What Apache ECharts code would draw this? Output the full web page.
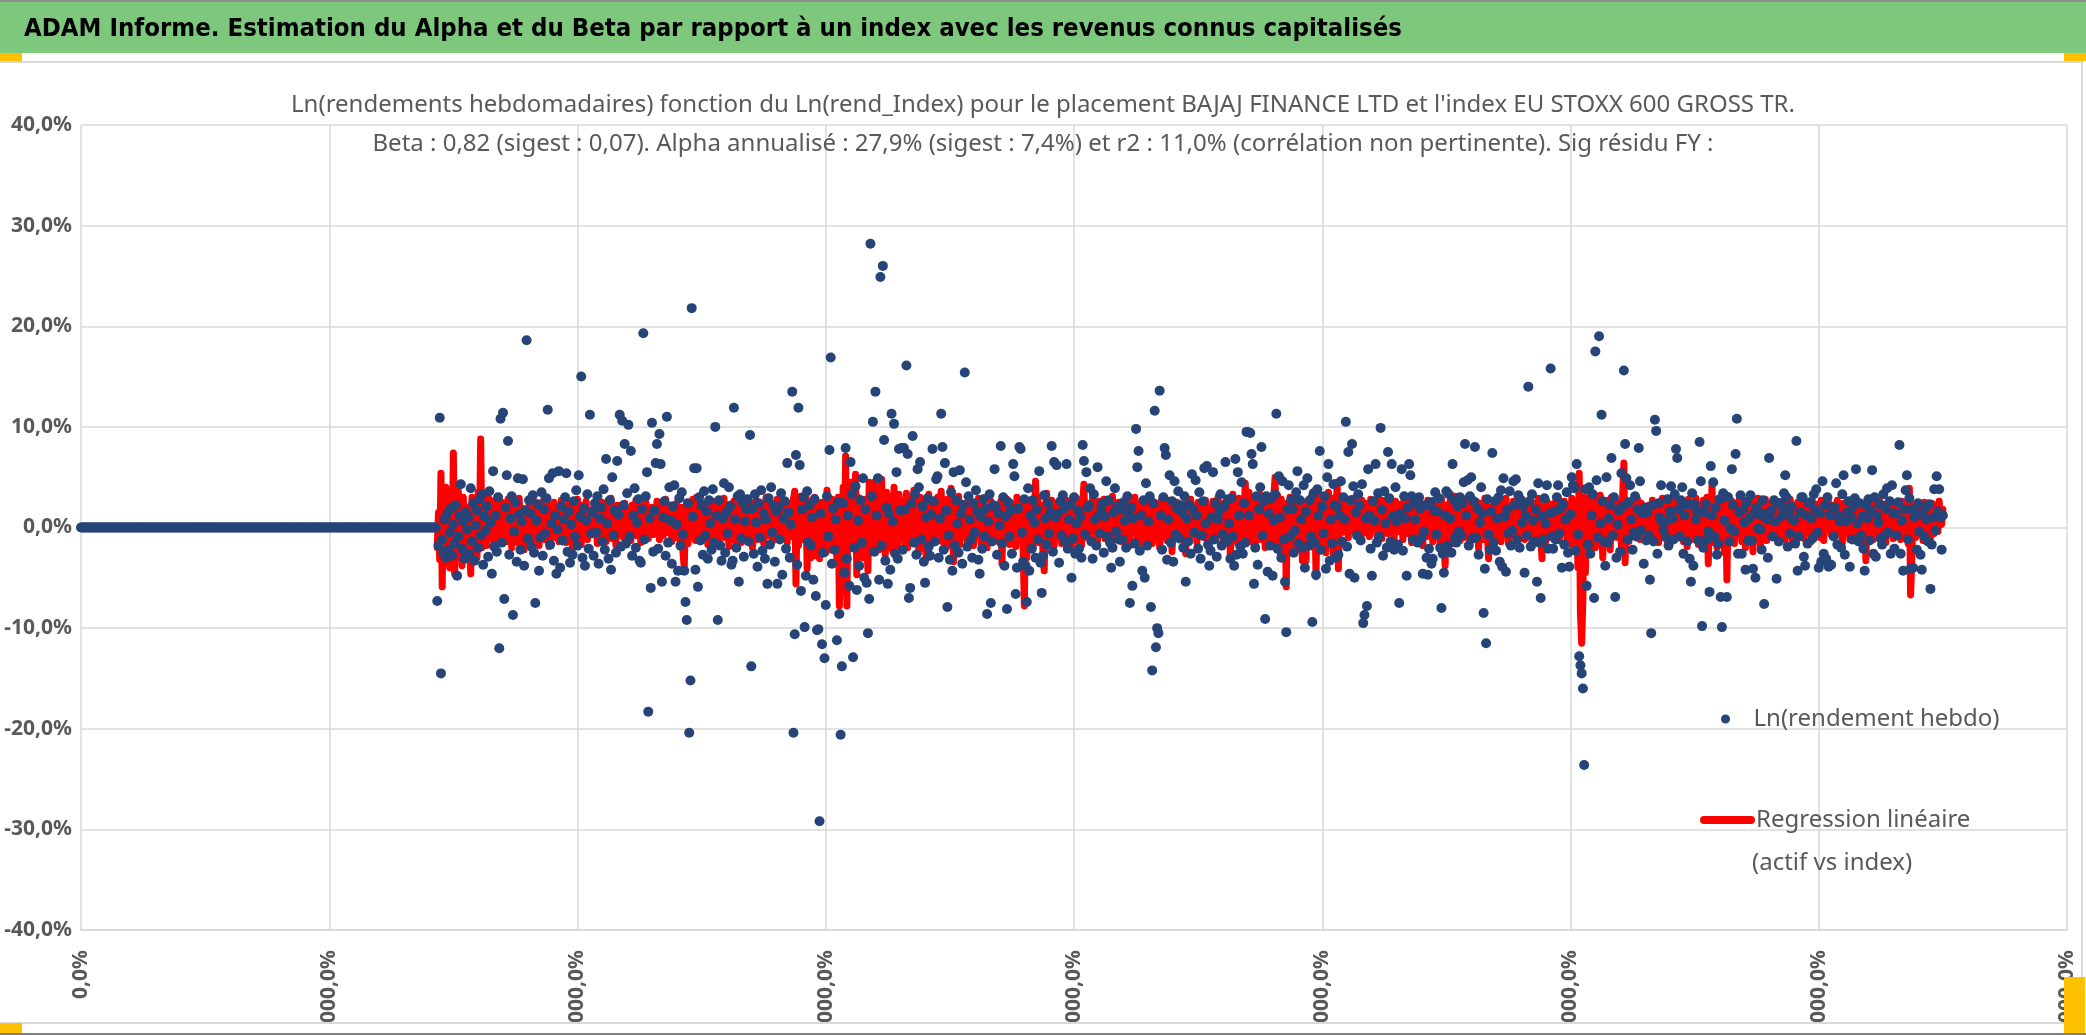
<!DOCTYPE html>
<html lang="fr">
<head>
<meta charset="utf-8">
<title>ADAM Informe - Alpha et Beta BAJAJ FINANCE</title>
<script src="https://cdn.jsdelivr.net/npm/echarts@6/dist/echarts.min.js"></script>
<style>
  html, body { margin: 0; padding: 0; background: #ffffff; }
  #chart { width: 2086px; height: 1035px; }
</style>
</head>
<body>
<div id="chart"></div>
<script>
// textes
var titreBandeau = 'ADAM Informe. Estimation du Alpha et du Beta par rapport à un index avec les revenus connus capitalisés';
var titreLigne1 = "Ln(rendements hebdomadaires) fonction du Ln(rend_Index) pour le placement BAJAJ FINANCE LTD et l'index EU STOXX 600 GROSS TR.";
var titreLigne2 = 'Beta : 0,82 (sigest : 0,07). Alpha annualisé : 27,9% (sigest : 7,4%) et r2 : 11,0% (corrélation non pertinente). Sig résidu FY :';
var nomPoints = 'Ln(rendement hebdo)';
var nomRegression = 'Regression linéaire';
var nomRegressionSuite = '(actif vs index)';

// axes (semaines en x, % en y)
var bornesX = [0, 1600];
var pasX = 200;
var bornesY = [-40, 40];
var pasY = 10;

// semaines avant la cotation : rendement nul (en dixiemes de %)
var rendAvantCotation = [
  0,0,0,0,0,0,0,0,0,0, 0,0,0,0,0,0,0,0,0,0, 0,0,0,0,0,0,0,0,0,0, 0,0,0,0,0,0,0,0,0,0,
  0,0,0,0,0,0,0,0,0,0, 0,0,0,0,0,0,0,0,0,0, 0,0,0,0,0,0,0,0,0,0, 0,0,0,0,0,0,0,0,0,0,
  0,0,0,0,0,0,0,0,0,0, 0,0,0,0,0,0,0,0,0,0, 0,0,0,0,0,0,0,0,0,0, 0,0,0,0,0,0,0,0,0,0,
  0,0,0,0,0,0,0,0,0,0, 0,0,0,0,0,0,0,0,0,0, 0,0,0,0,0,0,0,0,0,0, 0,0,0,0,0,0,0,0,0,0,
  0,0,0,0,0,0,0,0,0,0, 0,0,0,0,0,0,0,0,0,0, 0,0,0,0,0,0,0,0,0,0, 0,0,0,0,0,0,0,0,0,0,
  0,0,0,0,0,0,0,0,0,0, 0,0,0,0,0,0,0,0,0,0, 0,0,0,0,0,0,0,0,0,0, 0,0,0,0,0,0,0,0,0,0,
  0,0,0,0,0,0,0,0,0,0, 0,0,0,0,0,0,0,0,0,0, 0,0,0,0,0,0,0,0,0,0, 0,0,0,0,0,0,0,0,0,0,
  0,0,0,0,0,0,0
];

// Ln(rendement hebdo), dixiemes de %, une valeur par semaine a partir de la semaine 287
var rendHebdo = [
  -73,-18,109,-145,-12,-25,8,-30,14,-22,-5,19,-28,3,-16,22,-48,-9,12,43,-21,6,-31,15,-2,
  10,-26,39,-14,24,-33,2,17,-20,28,-8,33,-37,11,-3,21,-29,36,5,-46,56,-19,12,-24,30,
  -120,108,-15,114,-71,20,52,86,-27,9,31,-87,-4,25,-34,49,13,-22,6,48,-38,17,186,-11,27,
  14,-19,32,-25,-75,7,23,-43,-10,35,-28,18,-6,29,117,49,-17,4,54,-33,12,-46,-2,56,-40,
  21,-13,8,30,54,-24,16,-35,3,-27,26,-9,37,-18,52,11,150,-30,19,-38,7,33,-21,112,-6,
  15,-28,24,-5,31,-36,9,20,-14,38,-22,68,4,-31,27,-42,50,-8,17,-25,66,13,112,-19,106,
  22,83,-16,34,102,-9,76,-28,12,39,-20,5,28,-33,-35,18,193,-12,31,55,-183,9,-60,104,-24,
  17,64,83,-21,93,63,-54,10,26,-28,110,-15,40,7,-36,21,42,-54,3,-43,29,-18,35,-7,-43,
  -74,-92,24,-204,-152,218,11,59,-42,59,-59,30,-13,22,-27,36,-8,16,-31,27,4,-22,38,-15,100,
  12,-92,27,-18,-33,9,44,-25,15,-6,40,21,-37,-33,119,8,-20,31,-54,33,-11,25,-29,6,18,
  28,-14,92,-138,19,-26,33,5,-39,24,-10,37,-23,14,-31,8,-56,29,-17,40,-5,22,-34,16,-56,
  20,-12,34,-47,9,26,-21,64,15,-30,3,135,-204,-106,72,-37,119,62,-63,18,30,-99,-48,36,-15,
  22,-18,10,-52,28,-68,-102,-101,-292,14,-116,-25,-130,-77,31,-9,77,169,-36,19,-22,8,-112,25,-86,
  -206,-138,24,-45,79,-31,12,-58,65,33,-129,-20,41,-62,7,-38,27,-15,49,-50,18,-55,-105,-71,282,
  31,105,-24,135,12,49,-52,249,-18,260,87,-33,20,-56,14,-42,113,6,103,-26,55,-31,78,17,79,
  -22,79,18,161,73,-70,-60,24,91,-15,33,-27,58,40,65,-12,21,-34,-55,10,29,-19,-28,13,78,
  26,-14,48,51,-30,9,113,80,-22,64,17,-79,-8,-32,35,-43,55,-18,27,4,-25,57,14,-36,22,
  154,45,-19,31,8,-12,-30,24,-5,37,16,-32,-46,11,-21,28,-9,19,-86,6,33,-75,-14,22,58,
  21,-27,14,2,81,-16,30,-38,11,-81,25,-9,17,-26,63,51,-66,-40,19,80,78,-5,-34,28,-38,
  -74,39,-43,12,-21,27,5,-30,18,-12,56,-35,-65,-28,32,9,-17,24,-6,15,81,-24,65,10,62,
  14,-35,26,-8,32,19,-14,63,-21,8,23,-50,-11,30,-26,4,17,-21,11,-30,82,66,-7,55,20,
  22,39,-14,-31,33,8,-18,60,12,-6,19,24,-25,11,46,-9,27,-15,-40,-20,15,39,-4,21,-12,
  -34,18,-12,25,7,-20,31,13,-75,20,-58,9,-16,98,60,76,-23,12,-43,27,-50,44,-18,6,31,
  -79,-142,24,116,-119,-100,-105,136,12,-22,30,79,72,-32,8,52,-15,26,-34,46,-7,19,36,-11,22,
  15,-20,31,-54,9,-14,22,-26,53,18,-5,47,12,-21,35,-31,-8,26,59,4,61,-17,-38,-23,10,
  55,-12,24,-29,8,16,33,-18,-7,21,65,-14,28,4,-31,29,-9,-38,68,-27,55,12,-19,45,-26,
  24,-15,95,95,12,94,73,63,-56,-20,31,-37,18,40,80,-8,26,-91,31,-44,14,-18,29,-48,7,
  33,113,-21,51,10,-30,46,-12,-54,-104,18,42,-9,27,18,-25,-3,35,56,-16,27,8,-20,42,-40,
  16,49,-18,27,-9,-94,34,-15,-47,38,12,76,-22,21,-6,31,-41,50,63,-33,8,-16,43,22,-30,
  21,-27,12,46,-14,30,8,105,-19,75,-46,27,83,41,-50,15,-8,33,22,-13,43,-95,-87,9,-78,
  58,12,-21,-48,26,7,63,-15,34,-9,99,18,-28,36,4,-20,75,29,-14,63,11,-22,40,6,-17,
  -75,14,58,-23,31,9,-48,20,63,52,31,-12,24,8,27,-15,30,19,-10,-46,-4,22,-30,-47,-21,
  25,-36,-31,17,35,-7,16,29,-20,-80,-26,-45,12,36,-18,33,9,-25,63,27,-10,-15,21,-4,30,
  -8,24,45,83,12,47,-18,31,50,-11,26,80,-10,19,-27,5,40,14,-85,-41,-115,28,-7,-22,16,
  74,-15,26,-23,9,30,-34,37,-39,49,11,-44,18,-6,36,-18,-3,46,22,48,-12,32,-20,27,5,
  21,-45,12,-8,140,26,-19,33,7,-14,18,-54,44,-15,-70,11,-12,29,4,42,-21,14,158,-9,-21,
  16,-12,30,42,-6,19,-40,23,-17,8,35,-25,-39,13,50,42,39,-23,63,-7,-128,-137,-145,-160,-236,
  38,-58,-17,40,-26,12,33,-70,175,47,-10,190,4,112,26,-14,-38,50,-15,9,22,69,-8,30,-69,
  -30,3,17,-24,54,21,156,83,49,-12,25,42,8,-22,-5,31,-9,18,79,46,-3,14,-36,20,-13,
  15,-8,-52,-105,22,-14,107,96,-26,24,10,42,5,-3,6,-10,28,-18,16,41,9,-12,33,78,69,
  18,-9,27,40,-26,12,23,-14,23,-31,-54,34,-38,23,8,16,-13,85,46,-98,-20,15,23,-12,-4,
  -64,61,12,45,-9,20,-27,-16,28,-69,-99,34,7,31,-69,30,-14,-1,58,22,-4,73,108,-26,15,
  32,-26,18,5,-42,25,-13,9,32,-13,-41,14,-50,20,-1,13,-2,-22,27,-76,14,8,-30,69,8,
  17,-9,27,6,-51,24,-14,24,11,20,34,52,30,-19,13,-6,21,8,7,-16,86,-43,-9,15,30,
  30,-29,-38,12,-16,24,25,9,-11,33,18,38,-5,-40,14,-34,46,-26,22,-31,30,-39,12,-37,20,
  -9,20,44,-17,11,6,-20,33,52,-27,6,15,26,-39,11,-12,21,29,58,4,-14,24,-8,11,-21,
  -43,22,9,28,-13,17,57,-26,30,-29,12,5,23,-11,-17,33,-8,19,39,-5,26,-26,42,14,-21,
  14,-8,25,82,-26,7,-43,18,37,52,-12,29,-41,18,-40,10,15,-22,24,-4,-27,-42,13,-9,20,
  8,-14,23,-61,-17,10,38,-3,51,16,38,10,-22,12
];

// Regression lineaire (actif vs index), dixiemes de %, memes semaines
var rendRegression = [
  -20,15,-32,54,-59,28,-35,40,-18,33,-40,12,-25,74,-46,22,-30,36,-14,25,-38,30,-10,18,-28,
  20,-15,-46,30,-22,26,8,-30,35,-12,88,-20,24,-8,30,-18,15,28,-10,22,5,-16,27,2,-12,
  18,-10,25,-5,22,8,-14,28,-2,15,-20,24,6,-9,21,-15,29,3,-11,19,-22,14,7,-6,23,
  2,20,-13,26,-5,17,9,-18,24,1,-8,30,-12,16,5,-19,22,11,-7,25,-10,14,20,-14,9,
  27,-9,12,21,-15,6,24,-3,15,-21,19,8,-11,28,0,13,-17,22,4,-8,26,-12,10,17,-4,
  18,-6,23,3,-16,20,11,-9,25,-2,14,-14,21,7,-5,29,-11,16,2,-18,22,9,-7,19,4,
  -10,24,12,-4,18,6,-13,22,0,15,27,-8,10,19,-15,21,4,-6,25,11,-11,17,3,20,-7,
  16,-3,26,9,-12,21,5,-8,18,28,-5,13,0,22,-14,17,7,-10,24,2,15,-18,20,-25,-40,
  12,25,-16,19,3,-9,28,10,-13,30,5,-6,21,-11,16,24,-4,8,-17,22,13,-8,26,1,-12,
  20,7,-14,24,-3,17,29,-10,11,4,-19,23,15,-7,26,-13,9,20,-5,27,-15,12,3,22,-9,
  14,-6,25,8,-20,18,2,27,-12,16,-4,23,9,-16,21,30,-8,13,-2,24,-14,19,6,-10,28,
  7,22,-11,17,26,-5,12,-15,24,3,19,-9,28,36,-56,20,-18,14,31,-12,8,25,33,-41,10,
  18,-30,26,-12,30,-28,14,22,-31,8,25,-18,12,-25,37,-10,20,-22,28,4,-15,24,-35,30,-78,
  20,-65,40,-30,71,-78,35,-20,45,-15,28,-12,53,-47,30,-20,25,10,-30,20,28,-10,-43,45,-20,
  30,-18,45,-25,12,38,-22,26,48,-15,20,-27,35,5,-20,30,14,-24,40,-8,22,-18,33,2,-12,
  26,8,-16,34,-20,19,28,-8,12,37,-14,22,3,-25,30,15,-12,24,-6,-31,20,33,-10,18,-2,
  14,-11,25,30,-6,18,36,-14,22,7,-20,28,11,-9,39,5,-34,26,-12,20,31,-17,9,24,-5,
  22,10,-13,27,-4,16,3,-18,24,12,-9,29,6,-15,20,25,-7,14,-20,18,1,26,-11,13,21,
  -8,19,7,-15,26,-36,20,11,-10,28,3,-17,24,15,-6,22,-19,30,8,-13,25,2,-22,-78,21,
  -30,24,15,-12,28,-20,10,46,5,30,-15,22,12,-25,-43,20,34,-8,18,-14,27,6,-18,24,15,
  -10,20,8,-16,25,13,-5,27,-12,18,4,-20,22,10,-8,29,-14,16,6,-18,24,43,-10,19,2,
  23,-9,15,30,-4,12,21,-13,26,5,-7,19,28,-11,14,2,24,-6,17,31,-12,20,9,-3,25,
  11,-14,22,7,27,-8,16,3,-18,25,12,-5,30,18,-10,21,6,-15,26,14,-2,23,-12,19,8,
  28,-16,13,24,-6,19,4,-20,26,10,-9,22,15,-13,27,1,18,-24,20,12,-7,25,-11,16,6,
  21,-5,17,-26,24,8,-12,28,14,-3,20,6,-15,25,11,-8,22,17,-10,27,3,-14,19,9,-6,
  26,12,-9,21,30,-4,15,24,-13,18,7,27,-11,20,-30,16,33,-6,22,10,-16,29,5,-8,24,
  15,44,-10,28,35,-14,22,8,30,-18,17,25,-6,33,-12,20,26,-20,12,29,-9,23,4,-16,31,
  50,-15,32,12,-25,28,6,-30,20,-59,24,-10,30,15,-18,26,3,-22,29,10,-14,25,-33,18,8,
  -33,26,14,-12,30,5,-20,24,-49,28,10,-15,32,18,-8,27,-25,12,35,-10,20,29,-28,15,6,
  45,-41,20,28,-5,15,30,2,22,-10,25,12,-3,29,8,18,-8,26,14,0,27,-6,19,24,4,
  21,-9,28,10,-2,25,16,-8,30,5,19,-11,27,12,0,24,-6,20,29,3,15,-10,26,9,18,
  -4,23,11,-12,28,17,-6,21,2,26,-15,14,30,-3,19,8,-10,25,13,-18,22,6,-9,27,15,
  5,20,-14,27,10,-7,24,16,-20,29,3,-12,-38,22,8,-5,26,14,-16,21,31,-9,18,4,-13,
  25,9,-10,28,15,-4,22,-17,30,6,19,-8,26,12,-21,24,3,17,-12,29,10,-6,-31,20,14,
  -5,23,13,-9,27,4,18,-14,25,10,-3,29,7,-16,21,15,-8,26,2,19,-11,24,12,-6,28,
  8,-12,22,16,-5,27,11,-18,24,3,20,-9,29,14,-2,-31,21,7,-14,26,13,-7,23,18,-10,
  24,-6,17,28,-13,10,21,-4,26,15,-10,22,6,-17,29,12,-3,19,25,-40,54,-85,-115,-70,30,
  -45,28,10,-25,34,-12,20,30,-20,15,26,-8,32,4,-30,22,14,-14,27,6,-22,30,-10,18,24,
  8,-10,25,14,-18,30,64,-35,20,12,-14,26,6,-9,22,17,-5,28,10,-12,24,3,-8,20,15,
  -4,22,12,-11,27,8,-7,24,16,-15,21,3,29,-9,18,11,-13,26,5,20,-6,28,14,-10,23,
  9,-8,26,15,-14,21,4,-19,28,12,-6,24,18,-12,29,6,-17,22,10,-5,27,-20,14,30,-36,
  18,-10,42,-15,25,10,-20,28,5,-12,22,15,-25,30,-52,20,12,-8,26,3,-16,24,9,-5,28,
  12,-14,23,6,-20,27,16,-7,21,2,-24,25,13,-11,29,8,-18,22,15,-4,28,-13,19,7,-9,
  24,10,-8,27,4,-15,21,14,-6,26,9,-12,22,17,-3,28,5,-16,20,11,-9,25,13,-5,23,
  7,-11,24,16,-4,20,10,-14,26,3,18,-8,23,12,-10,27,6,-13,21,15,-2,25,8,-7,22,
  13,-9,20,27,-5,16,8,-15,24,11,-3,22,17,-12,26,4,19,-7,28,10,-14,21,6,15,-6,
  18,-33,20,9,-8,25,14,-12,22,5,17,-10,26,11,-4,23,8,-15,20,13,-6,27,3,-11,24,
  10,-7,22,15,-12,26,4,-9,20,12,-16,39,-67,-30,18,8,-10,24,14,-5,21,9,-13,25,6,
  -8,20,13,-10,24,7,-6,22,15,-4,26,10,3,18
];

// points [semaine, %]
var pointsHebdo = rendAvantCotation.concat(rendHebdo).map(function (v, i) {
  return [i, v / 10];
});
var debutCotation = rendAvantCotation.length;
var pointsRegression = rendRegression.map(function (v, i) {
  return [debutCotation + i, v / 10];
});

function enPourcent(v) {
  return v.toFixed(1).replace('.', ',') + '%';
}

var GRIS_TEXTE = '#595959';
var GRIS_GRILLE = '#D9D9D9';
var POLICE = "'Noto Sans', sans-serif";

var chart = echarts.init(document.getElementById('chart'));

var option = {
  animation: false,
  backgroundColor: '#ffffff',
  title: [
    {
      text: titreBandeau,
      left: 24,
      top: 16,
      padding: 0,
      textStyle: {
        fontFamily: "'Liberation Sans Narrow', 'DejaVu Sans Condensed', 'Noto Sans', sans-serif",
        fontWeight: 'bold',
        fontSize: 25.5,
        color: '#000000'
      }
    },
    {
      text: titreLigne1,
      left: 'center',
      top: 93,
      padding: 0,
      textStyle: { fontFamily: POLICE, fontWeight: 'normal', fontSize: 24, color: GRIS_TEXTE }
    },
    {
      text: titreLigne2,
      left: 'center',
      top: 132,
      padding: 0,
      textStyle: { fontFamily: POLICE, fontWeight: 'normal', fontSize: 24, color: GRIS_TEXTE }
    }
  ],
  legend: [
    {
      data: [nomPoints],
      left: 1721,
      top: 707,
      padding: 0,
      itemWidth: 46,
      itemHeight: 9,
      icon: 'circle',
      selectedMode: false,
      textStyle: { fontFamily: POLICE, fontSize: 24, color: GRIS_TEXTE }
    },
    {
      data: [nomRegression],
      left: 1700,
      top: 808,
      padding: 0,
      itemWidth: 47,
      itemHeight: 8,
      selectedMode: false,
      lineStyle: { width: 8, cap: 'round' },
      textStyle: { fontFamily: POLICE, fontSize: 24, color: GRIS_TEXTE }
    }
  ],
  grid: {
    left: 81,
    right: 19,
    top: 125,
    bottom: 105,
    containLabel: false,
    outerBoundsMode: 'none'
  },
  xAxis: {
    type: 'value',
    min: bornesX[0],
    max: bornesX[1],
    interval: pasX,
    axisLine: { show: true, onZero: false, lineStyle: { color: GRIS_GRILLE, width: 2 } },
    axisTick: { show: false },
    splitLine: { show: true, lineStyle: { color: GRIS_GRILLE, width: 1.5 } },
    axisLabel: {
      rotate: 90,
      margin: 20,
      fontFamily: POLICE,
      fontWeight: 'bold',
      fontSize: 21,
      color: GRIS_TEXTE,
      formatter: function (v) { return enPourcent(v * 100); }
    }
  },
  yAxis: {
    type: 'value',
    min: bornesY[0],
    max: bornesY[1],
    interval: pasY,
    axisLine: { show: false },
    axisTick: { show: false },
    splitLine: { show: true, lineStyle: { color: GRIS_GRILLE, width: 1.5 } },
    axisLabel: {
      margin: 9,
      fontFamily: POLICE,
      fontWeight: 'bold',
      fontSize: 21,
      color: GRIS_TEXTE,
      formatter: enPourcent
    }
  },
  series: [
    {
      name: nomRegression,
      type: 'line',
      data: pointsRegression,
      showSymbol: false,
      symbol: 'none',
      silent: true,
      z: 2,
      itemStyle: { color: '#FF0000' },
      lineStyle: { color: '#FF0000', width: 7, join: 'round', cap: 'round' }
    },
    {
      name: nomPoints,
      type: 'scatter',
      data: pointsHebdo,
      symbolSize: 10,
      silent: true,
      z: 3,
      itemStyle: { color: '#264478', opacity: 1 }
    }
  ],
  graphic: [
    // bandeau vert du titre
    { type: 'rect', silent: true, z: 0, shape: { x: 0, y: 0, width: 2086, height: 53 }, style: { fill: '#7EC87E' } },
    { type: 'rect', silent: true, z: 1, shape: { x: 0, y: 0, width: 2086, height: 2 }, style: { fill: '#8C8C8C' } },
    // cadre du graphique
    { type: 'rect', silent: true, z: 1, shape: { x: 0, y: 61, width: 2083, height: 2 }, style: { fill: GRIS_GRILLE } },
    { type: 'rect', silent: true, z: 1, shape: { x: 2081, y: 61, width: 2, height: 962 }, style: { fill: GRIS_GRILLE } },
    // bas du cadre : les etiquettes x sont coupees
    { type: 'rect', silent: true, z: 100, shape: { x: 0, y: 1022, width: 2086, height: 13 }, style: { fill: '#ffffff' } },
    { type: 'rect', silent: true, z: 101, shape: { x: 0, y: 1022, width: 2083, height: 2 }, style: { fill: GRIS_GRILLE } },
    { type: 'rect', silent: true, z: 101, shape: { x: 0, y: 1033, width: 2086, height: 2 }, style: { fill: '#7F7F7F' } },
    // poignees jaunes
    { type: 'rect', silent: true, z: 102, shape: { x: 0, y: 53, width: 22, height: 8 }, style: { fill: '#FFC000' } },
    { type: 'rect', silent: true, z: 102, shape: { x: 2064, y: 53, width: 22, height: 8 }, style: { fill: '#FFC000' } },
    { type: 'rect', silent: true, z: 102, shape: { x: 0, y: 1023, width: 22, height: 10 }, style: { fill: '#FFC000' } },
    { type: 'rect', silent: true, z: 102, shape: { x: 2064, y: 977, width: 21, height: 56 }, style: { fill: '#FFC000' } },
    // seconde ligne de la legende
    {
      type: 'text', silent: true, z: 10, x: 1752, y: 863,
      style: { text: nomRegressionSuite, fontFamily: POLICE, fontSize: 24, fill: GRIS_TEXTE, verticalAlign: 'middle' }
    }
  ]
};

chart.setOption(option);
</script>
</body>
</html>
